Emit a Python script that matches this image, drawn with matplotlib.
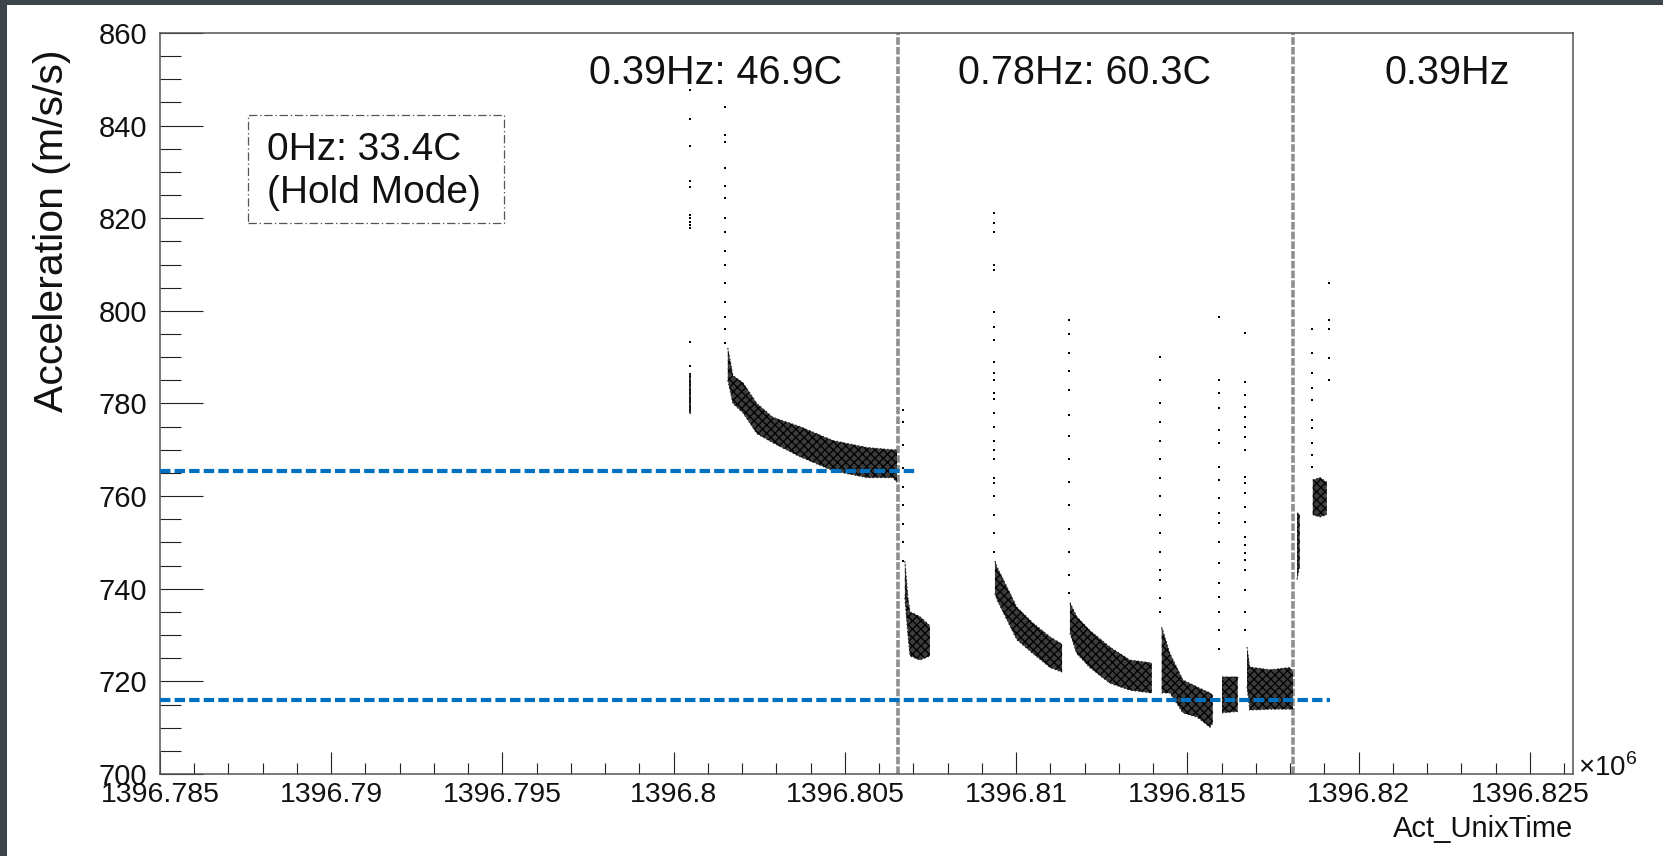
import numpy as np
import matplotlib
matplotlib.use('agg')
import matplotlib.pyplot as plt
import matplotlib.ticker as ticker
from matplotlib.patches import Rectangle

plt.rcParams['font.family'] = ['Liberation Sans', 'DejaVu Sans']
plt.rcParams['mathtext.fontset'] = 'custom'
plt.rcParams['mathtext.rm'] = 'Liberation Sans'
plt.rcParams['lines.scale_dashes'] = False
plt.rcParams['hatch.linewidth'] = 0.9

# ---- data (Act_UnixTime in units of 1e6 s, acceleration in m/s/s) ----
# sparse vertical streaks of single samples: one time, list of values
t_s1a = 1396.80047
a_s1a = [847.7, 841.4, 835.6, 828.0, 826.7, 820.7, 820.0, 819.2, 818.5, 817.9,
         793.3, 788.1, 786.2, 785.0, 784.0, 783.0, 782.0, 781.0, 780.0, 778.2]
t_s1b = 1396.80150
a_s1b = [844.0, 838.0, 836.5, 830.9, 827.0, 824.4, 820.0, 817.0, 813.0, 810.0,
         806.0, 802.0, 798.7, 796.0, 793.0]
t_s2 = 1396.80669
a_s2 = [778.6, 776.0, 771.0, 766.0, 762.0, 758.0, 754.0, 750.0, 746.0]
t_sa = 1396.80935
a_sa = [821.1, 819.0, 817.0, 810.0, 808.8, 799.8, 796.5, 793.7, 789.0, 786.6,
        785.0, 782.3, 781.0, 778.0, 775.0, 772.0, 770.0, 768.0, 764.0, 762.8,
        760.0, 756.0, 752.0, 748.0]
t_sb = 1396.81154
a_sb = [798.0, 795.0, 791.0, 787.0, 783.0, 777.5, 773.0, 768.0, 763.0, 758.0,
        753.0, 748.0, 743.0, 739.0]
t_sc = 1396.81420
a_sc = [790.0, 785.0, 780.0, 776.0, 772.0, 768.0, 764.0, 760.0, 756.0, 752.0,
        748.0, 744.0, 741.9, 738.0, 735.0]
t_sd = 1396.81592
a_sd = [798.7, 785.0, 782.3, 779.0, 774.3, 771.5, 766.3, 763.5, 759.6, 756.4,
        754.2, 750.1, 745.6, 741.2, 738.2, 735.0, 731.0, 727.0]
t_se = 1396.81668
a_se = [795.2, 784.6, 781.8, 779.2, 777.1, 774.9, 772.8, 770.0, 764.1, 762.8,
        760.7, 757.7, 754.4, 751.2, 749.5, 747.7, 746.2, 744.0, 739.7, 735.0, 731.0]
t_sg = 1396.81864
a_sg = [796.1, 791.0, 786.6, 783.4, 780.8, 776.4, 774.7, 771.5, 768.9, 766.3]
t_sh = 1396.81913
a_sh = [806.0, 798.0, 796.0, 789.8, 785.0]

# dense clouds: time nodes with lower / upper edge of the cloud
b0_t = [1396.80044, 1396.80050]
b0_lo = [778.0, 778.0]
b0_hi = [786.5, 786.5]
b1_t = [1396.80158, 1396.80173, 1396.80202, 1396.80243, 1396.80290,
        1396.80369, 1396.80465, 1396.80564, 1396.80640, 1396.80652]
b1_lo = [785.0, 780.0, 778.0, 773.5, 771.5, 768.5, 765.5, 764.0, 764.0, 763.0]
b1_hi = [792.0, 786.0, 784.5, 780.0, 777.0, 775.0, 772.0, 770.5, 770.0, 770.0]
b2_t = [1396.80675, 1396.80684, 1396.80690, 1396.80719, 1396.80748]
b2_lo = [738.0, 730.0, 725.5, 724.6, 725.5]
b2_hi = [746.0, 738.0, 735.0, 734.0, 732.0]
ba_t = [1396.80938, 1396.80944, 1396.80973, 1396.81002, 1396.81049, 1396.81099, 1396.81134]
ba_lo = [739.0, 737.6, 733.3, 729.0, 726.0, 723.0, 722.0]
ba_hi = [746.0, 744.7, 740.4, 736.0, 732.6, 729.6, 728.0]
bb_t = [1396.81157, 1396.81177, 1396.81215, 1396.81274, 1396.81332, 1396.81396]
bb_lo = [730.4, 726.0, 723.0, 719.6, 718.1, 717.5]
bb_hi = [737.0, 734.0, 731.0, 727.4, 724.6, 724.0]
bc_t = [1396.81425, 1396.81449, 1396.81487, 1396.81528, 1396.81566, 1396.81574]
bc_lo = [717.5, 717.5, 713.2, 712.3, 710.1, 711.0]
bc_hi = [731.7, 726.0, 720.3, 718.8, 717.5, 717.0]
bd_t = [1396.81601, 1396.81647]
bd_lo = [713.2, 713.5]
bd_hi = [721.0, 721.0]
be_t = [1396.81674, 1396.81682, 1396.81741, 1396.81799, 1396.81808]
be_lo = [718.8, 713.8, 714.0, 714.0, 714.0]
be_hi = [727.4, 723.1, 722.5, 723.0, 722.0]
bg1_t = [1396.81820, 1396.81828]
bg1_lo = [742.0, 745.0]
bg1_hi = [756.4, 756.0]
bg2_t = [1396.81866, 1396.81887, 1396.81907]
bg2_lo = [756.0, 755.5, 756.0]
bg2_hi = [763.5, 764.0, 763.0]

# frequency change times and reference levels
mode_change_t = [1396.80655, 1396.81808]
ref_levels = [765.5, 716.0]
ref_ends = [1396.80713, 1396.81916]
mode_labels = ['0.39Hz: 46.9C', '0.78Hz: 60.3C', '0.39Hz']

# ---- figure ----
W, H = 1663, 856
fig = plt.figure(figsize=(W / 100, H / 100), dpi=100)
fig.patch.set_facecolor('#3b4449')
fig.patches.append(Rectangle((7 / W, 0), 1, 1 - 5 / H, transform=fig.transFigure,
                             facecolor='white', edgecolor='none', zorder=-10))

ax = fig.add_axes([160 / W, 82 / H, 1412.7 / W, 741 / H])
xmin, xmax = 1396.785, 1396.82625
ax.set_xlim(xmin, xmax)
ax.set_ylim(700, 860)

streaks = [(t_s1a, a_s1a), (t_s1b, a_s1b), (t_s2, a_s2), (t_sa, a_sa), (t_sb, a_sb),
           (t_sc, a_sc), (t_sd, a_sd), (t_se, a_se), (t_sg, a_sg), (t_sh, a_sh)]
for t, a in streaks:
    ax.scatter([t] * len(a), a, s=3.5, marker='s', c='black', linewidths=0, zorder=3)

bands = [(b0_t, b0_lo, b0_hi), (b1_t, b1_lo, b1_hi), (b2_t, b2_lo, b2_hi),
         (ba_t, ba_lo, ba_hi), (bb_t, bb_lo, bb_hi), (bc_t, bc_lo, bc_hi),
         (bd_t, bd_lo, bd_hi), (be_t, be_lo, be_hi), (bg1_t, bg1_lo, bg1_hi),
         (bg2_t, bg2_lo, bg2_hi)]
for t, lo, hi in bands:
    # speckled look of the dense sample cloud
    ax.fill_between(t, lo, hi, facecolor='#3c3c3c', edgecolor='black',
                    hatch='xxxx', linewidth=0, zorder=3)
    ax.plot(t, lo, color='#222222', lw=0.8, ls=':', zorder=3)
    ax.plot(t, hi, color='#222222', lw=0.8, ls=':', zorder=3)

for t in mode_change_t:
    ax.axvline(t, color='#8f8f8f', lw=2.6, dashes=(5.5, 1.5), zorder=2)

for lvl, end in zip(ref_levels, ref_ends):
    ax.plot([xmin, end], [lvl, lvl], color='#0070c0', lw=3.0, dashes=(7.5, 3.0),
            zorder=4, clip_on=False)

# axes styling (ROOT-like)
ax.xaxis.set_major_locator(ticker.MultipleLocator(0.005))
ax.xaxis.set_minor_locator(ticker.MultipleLocator(0.001))
ax.yaxis.set_major_locator(ticker.MultipleLocator(20))
ax.yaxis.set_minor_locator(ticker.MultipleLocator(5))
ax.xaxis.set_major_formatter(ticker.FuncFormatter(
    lambda v, p: ('%.3f' % v).rstrip('0').rstrip('.')))
ax.tick_params(which='both', direction='in', top=False, right=False,
               color='#222222', width=0.8, labelcolor='#111111')
ax.tick_params(axis='y', which='major', length=31, pad=9, labelsize=21)
ax.tick_params(axis='y', which='minor', length=15)
ax.tick_params(axis='x', which='major', length=16, pad=6, labelsize=20.5)
ax.tick_params(axis='x', which='minor', length=8)
for sp in ax.spines.values():
    sp.set_color('#555555')
    sp.set_linewidth(1.1)

# texts
fig.text(52 / W, 1 - 50 / H, 'Acceleration (m/s/s)', rotation=90, ha='center',
         va='top', fontsize=29.5, color='#111111')
fig.text(1573 / W, 1 - 837 / H, 'Act_UnixTime', ha='right', va='baseline',
         fontsize=21, color='#111111')
fig.text(1578 / W, 1 - 776 / H, r'$\times10^{6}$', ha='left', va='baseline',
         fontsize=20, color='#111111')

label_x = [589, 958, 1384]
for lab, lx in zip(mode_labels, label_x):
    fig.text(lx / W, 1 - 84 / H, lab, ha='left', va='baseline', fontsize=28.5,
             color='#111111')

fig.patches.append(Rectangle((248 / W, 1 - 223 / H), 256 / W, 108 / H,
                             transform=fig.transFigure, facecolor='white',
                             edgecolor='#555555', lw=0.9,
                             linestyle=(0, (6, 2, 1, 2)), zorder=4))
fig.text(267 / W, 1 - 160 / H, '0Hz: 33.4C', ha='left', va='baseline',
         fontsize=28, color='#111111', zorder=5)
fig.text(267 / W, 1 - 203 / H, '(Hold Mode)', ha='left', va='baseline',
         fontsize=28, color='#111111', zorder=5)

fig.savefig('out.png', dpi=100, facecolor=fig.get_facecolor())
